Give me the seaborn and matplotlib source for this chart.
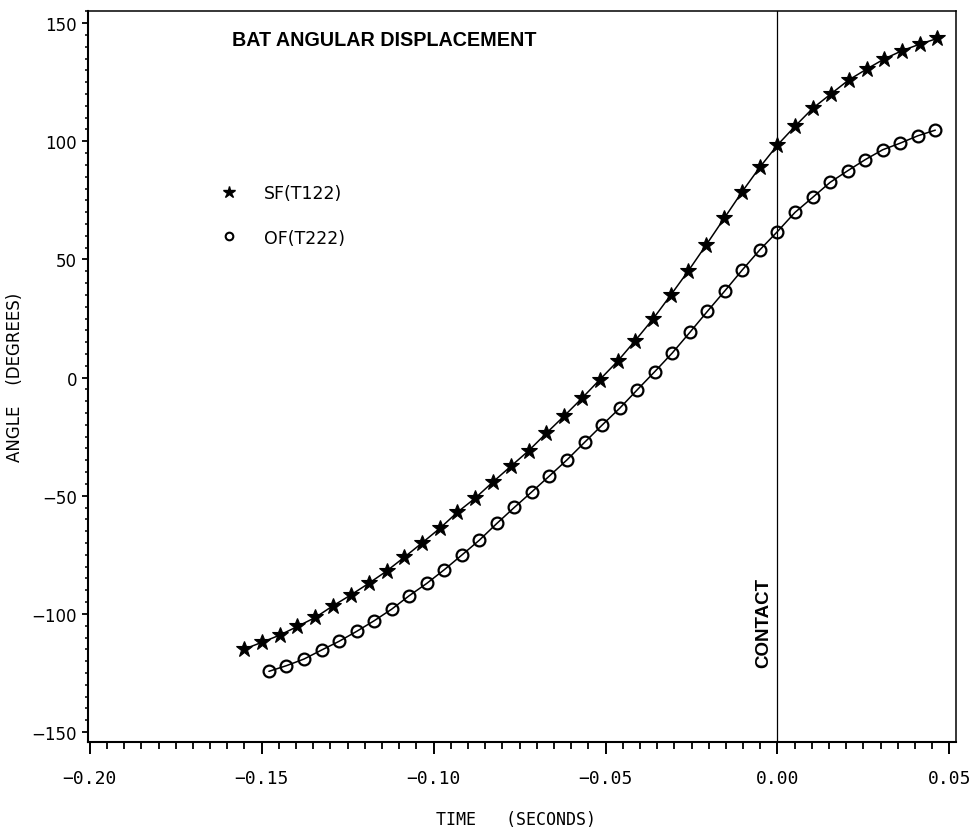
import matplotlib
matplotlib.use("Agg")
import matplotlib.pyplot as plt
from matplotlib.lines import Line2D
from matplotlib.ticker import MultipleLocator, FixedLocator
import seaborn as sns
import pandas as pd

# Time (s) relative to bat-ball contact, and bat angle (deg)
sf_time = [-0.1551, -0.1499, -0.1448, -0.1396, -0.1344, -0.1293, -0.1241, -0.1189,
           -0.1137, -0.1086, -0.1034, -0.0982, -0.0931, -0.0879, -0.0827, -0.0776,
           -0.0724, -0.0672, -0.0620, -0.0569, -0.0517, -0.0465, -0.0414, -0.0362,
           -0.0310, -0.0259, -0.0207, -0.0155, -0.0103, -0.0052, 0.0000, 0.0052,
           0.0103, 0.0155, 0.0207, 0.0259, 0.0310, 0.0362, 0.0414, 0.0465]
sf_angle = [-114.9, -112.0, -109.0, -105.3, -101.5, -96.6, -92.0, -87.1,
            -81.9, -76.1, -70.0, -63.8, -57.0, -51.0, -44.1, -37.6,
            -31.0, -23.5, -16.2, -8.8, -0.9, 6.9, 15.6, 24.8,
            35.0, 45.2, 56.2, 67.4, 78.6, 88.9, 98.4, 106.5,
            114.0, 120.0, 125.9, 130.5, 134.8, 138.3, 141.1, 143.5]

of_time = [-0.1479, -0.1428, -0.1377, -0.1326, -0.1275, -0.1224, -0.1173, -0.1122,
           -0.1071, -0.1020, -0.0969, -0.0918, -0.0867, -0.0816, -0.0765, -0.0714,
           -0.0663, -0.0612, -0.0561, -0.0510, -0.0459, -0.0408, -0.0357, -0.0306,
           -0.0255, -0.0204, -0.0153, -0.0102, -0.0051, 0.0000, 0.0051, 0.0102,
           0.0153, 0.0204, 0.0255, 0.0306, 0.0357, 0.0408, 0.0459]
of_angle = [-124.3, -121.9, -119.1, -115.3, -111.6, -107.4, -102.9, -98.0,
            -92.3, -87.1, -81.3, -75.1, -68.8, -61.7, -54.9, -48.3,
            -41.6, -34.8, -27.4, -20.1, -13.0, -5.2, 2.5, 10.4,
            19.1, 28.0, 36.7, 45.6, 54.1, 61.8, 69.9, 76.2,
            82.6, 87.5, 92.2, 96.4, 99.2, 102.3, 104.7]

series_labels = ["SF(T122)", "OF(T222)"]
x_ticks = [-0.20, -0.15, -0.10, -0.05, 0.00, 0.05]
y_ticks = [-150, -100, -50, 0, 50, 100, 150]
contact_time = 0.0

sns.set_style("ticks")
plt.rcParams["font.family"] = ["DejaVu Sans"]
plt.rcParams["text.color"] = "black"
plt.rcParams["axes.labelcolor"] = "black"


def fmt_num(v, spec):
    s = format(v, spec)
    return s.replace("-", "\u2212")


sf = pd.DataFrame({"time": sf_time, "angle": sf_angle})
of = pd.DataFrame({"time": of_time, "angle": of_angle})

fig = plt.figure(figsize=(9.76, 8.29), dpi=100)
ax = fig.add_axes([0.0902, 0.1043, 0.9798 - 0.0902, 0.9852 - 0.1043])

sns.lineplot(data=sf, x="time", y="angle", ax=ax, color="black", lw=1.1,
             marker="*", ms=12, mfc="black", mec="black", mew=0.8,
             errorbar=None, legend=False)
sns.lineplot(data=of, x="time", y="angle", ax=ax, color="black", lw=1.1,
             marker="o", ms=8.5, mfc="none", mec="black", mew=1.6,
             errorbar=None, legend=False)

ax.axvline(contact_time, color="black", lw=0.9)
ax.annotate("CONTACT", xy=(contact_time, 0.164),
            xycoords=("data", "axes fraction"),
            xytext=(-4, 0), textcoords="offset points",
            rotation=90, ha="right", va="center", color="black",
            fontsize=13.5, fontweight="bold", family="Liberation Sans")

ax.set_xlim(-0.2005, 0.052)
ax.set_ylim(-154, 155)

ax.xaxis.set_major_locator(FixedLocator(x_ticks))
ax.set_xticklabels([fmt_num(v, ".2f") for v in x_ticks],
                   family="DejaVu Sans Mono", fontsize=13)
ax.xaxis.set_minor_locator(MultipleLocator(0.005))
ax.yaxis.set_major_locator(FixedLocator(y_ticks))
ax.set_yticklabels([fmt_num(v, "d") for v in y_ticks], fontsize=12)
ax.yaxis.set_minor_locator(MultipleLocator(5))

ax.tick_params(axis="x", which="major", direction="out", length=8.5,
               width=1.4, pad=11, color="black", labelcolor="black")
ax.tick_params(axis="x", which="minor", direction="out", length=5,
               width=1.3, color="black")
ax.tick_params(axis="y", which="major", direction="out", length=4.5,
               width=1.3, pad=3.5, color="black", labelcolor="black")
ax.tick_params(axis="y", which="minor", direction="out", length=2.5,
               width=1.1, color="black")

for side in ("left", "bottom"):
    ax.spines[side].set_linewidth(1.5)
    ax.spines[side].set_color("black")
for side in ("top", "right"):
    ax.spines[side].set_visible(True)
    ax.spines[side].set_linewidth(1.1)
    ax.spines[side].set_color("black")

ax.set_xlabel("TIME   (SECONDS)", family="DejaVu Sans Mono", fontsize=12)
ax.xaxis.set_label_coords(0.493, -0.094)
ax.set_ylabel("ANGLE    (DEGREES)", fontsize=12)
ax.yaxis.set_label_coords(-0.074, 0.5)

ax.text(0.1655, 0.9607, "BAT ANGULAR DISPLACEMENT", transform=ax.transAxes,
        ha="left", va="center", fontsize=14.2, fontweight="bold",
        family="Liberation Sans", color="black")

handles = [
    Line2D([], [], ls="none", marker="*", ms=9, color="black"),
    Line2D([], [], ls="none", marker="o", ms=5.5, mfc="none", mec="black", mew=1.5),
]
ax.legend(handles, series_labels, loc="upper left",
          bbox_to_anchor=(0.1525, 0.764), frameon=False, fontsize=12.5,
          handlelength=1.0, handletextpad=1.5, labelspacing=1.55,
          borderpad=0, borderaxespad=0, labelcolor="black")

fig.savefig("out.png", dpi=100, facecolor="white")
